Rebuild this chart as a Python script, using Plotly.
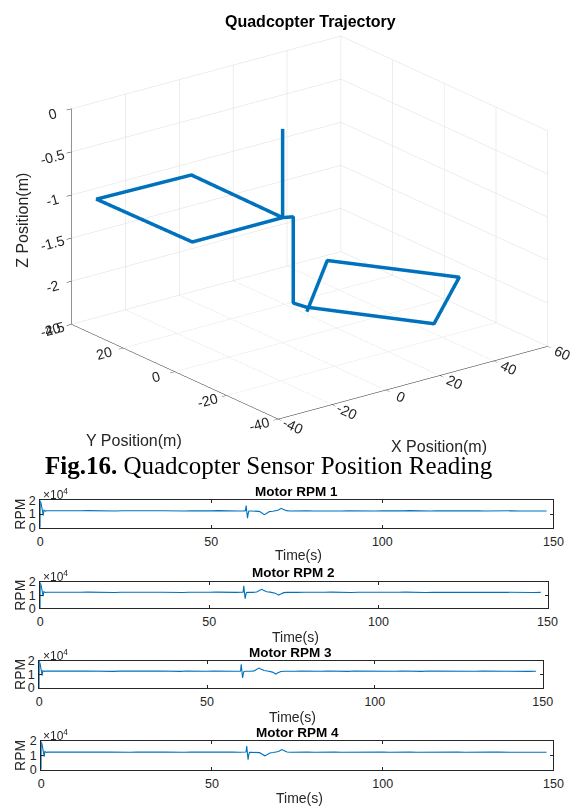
import plotly.graph_objects as go
import math

# ---------------- 3D trajectory data ----------------
traj_x = [0, 0, 0.4, -34.1, -33.5, 0, 2.9, 2.9, 3.8, 25.2, 54.8, 32.5, 1.6]
traj_y = [0, 0, 35.7, 36.5, 0, 0, -1.1, -1.1, -5.1, -32.3, -11.2, 16.6, -7.7]
traj_z = [-0.02, -1.05, -1.05, -1.05, -1.05, -1.05, -1.05, -2.05, -2.05, -2.05, -2.05, -2.05, -2.05]

x_ticks = [-40, -20, 0, 20, 40, 60]
y_ticks = [-40, -20, 0, 20, 40]
z_ticks = [-2.5, -2, -1.5, -1, -0.5, 0]
x_tick_text = ["-40", "-20", "0", "20", "40", "60"]
y_tick_text = ["-40", "-20", "0", "20", "40"]
z_tick_text = ["-2.5", "-2", "-1.5", "-1", "-0.5", "0"]

# ---------------- Motor RPM data ----------------
time_s = [0, 0.05, 0.3, 0.6, 0.9, 1.1, 1.5, 2,
          4, 6, 8, 10, 12, 14, 16, 18, 20, 22, 24, 26, 28, 30, 32, 34, 36, 38, 40,
          42, 44, 46, 48, 50, 52, 54, 56, 58,
          59.5, 60, 60.2, 60.4, 60.6, 60.8, 61, 61.5, 62, 63, 64, 64.5, 65, 65.5,
          66, 66.5, 67, 68, 69, 69.5, 70, 70.5, 71, 71.5, 72, 73, 74,
          76, 78, 80, 82, 84, 86, 88, 90, 92, 94, 96, 98, 100, 102, 104, 106, 108,
          110, 112, 114, 116, 118, 120, 122, 124, 126, 128, 130, 132, 134, 136,
          138, 140, 142, 144, 146, 148, 150]

rpm_motor1 = [0, 19800, 17500, 12500, 9000, 12900, 12200, 12400,
              12300, 12450, 12350, 12250, 12400, 12500, 12300, 12350, 12450, 12250,
              12400, 12300, 12500, 12350, 12200, 12400, 12450, 12300, 12350,
              12250, 12450, 12300, 12400, 12350, 12500, 12250, 12400, 12300,
              12350, 12500, 16200, 12000, 7100, 10500, 12200, 12300, 12200, 12250,
              12000, 11300, 10500, 9600, 10300, 11200, 11800, 12100, 12300, 12800,
              13500, 14200, 13500, 12900, 12500, 12300, 12400,
              12300, 12450, 12250, 12400, 12350, 12500, 12300, 12400, 12250, 12450,
              12350, 12300, 12450, 12250, 12400, 12350, 12500, 12300, 12400, 12250,
              12450, 12350, 12300, 12450, 12250, 12400, 12350, 12300, 12450, 12350,
              12250, 12400, 12300, 12450, 12350, 12250, 12300]

rpm_motor2 = [0, 19500, 17000, 12300, 9200, 12600, 12000, 12200,
              12100, 12250, 12150, 12050, 12200, 12300, 12100, 12150, 12250, 12050,
              12200, 12100, 12300, 12150, 12000, 12200, 12250, 12100, 12150,
              12050, 12250, 12100, 12200, 12150, 12300, 12050, 12200, 12100,
              12150, 12300, 17000, 13000, 7300, 10000, 12000, 12100, 12000, 12100,
              12400, 13000, 13800, 14400, 13700, 13000, 12600, 12300, 12000, 11500,
              10800, 10100, 10800, 11500, 11900, 12100, 12000,
              12100, 12250, 12050, 12200, 12150, 12300, 12100, 12200, 12050, 12250,
              12150, 12100, 12250, 12050, 12200, 12150, 12300, 12100, 12200, 12050,
              12250, 12150, 12100, 12250, 12050, 12200, 12150, 12100, 12250, 12150,
              12050, 12200, 12100, 12250, 12150, 12050, 12100]

rpm_motor3 = [0, 19600, 17200, 12400, 9100, 12700, 12100, 12300,
              12200, 12350, 12250, 12150, 12300, 12400, 12200, 12250, 12350, 12150,
              12300, 12200, 12400, 12250, 12100, 12300, 12350, 12200, 12250,
              12150, 12350, 12200, 12300, 12250, 12400, 12150, 12300, 12200,
              12250, 12400, 17300, 13200, 7400, 10200, 12100, 12200, 12100, 12200,
              12500, 13100, 13900, 14500, 13800, 13100, 12700, 12400, 12100, 11600,
              10900, 10200, 10900, 11600, 12000, 12200, 12100,
              12200, 12350, 12150, 12300, 12250, 12400, 12200, 12300, 12150, 12350,
              12250, 12200, 12350, 12150, 12300, 12250, 12400, 12200, 12300, 12150,
              12350, 12250, 12200, 12350, 12150, 12300, 12250, 12200, 12350, 12250,
              12150, 12300, 12200, 12350, 12250, 12150, 12200]

rpm_motor4 = [0, 19700, 17300, 12400, 9100, 12800, 12100, 12300,
              12200, 12350, 12250, 12150, 12300, 12400, 12200, 12250, 12350, 12150,
              12300, 12200, 12400, 12250, 12100, 12300, 12350, 12200, 12250,
              12150, 12350, 12200, 12300, 12250, 12400, 12150, 12300, 12200,
              12250, 12400, 16600, 12200, 7000, 10400, 12100, 12200, 12100, 12150,
              11900, 11200, 10400, 9700, 10300, 11100, 11700, 12000, 12200, 12700,
              13400, 14100, 13400, 12800, 12400, 12200, 12300,
              12200, 12350, 12150, 12300, 12250, 12400, 12200, 12300, 12150, 12350,
              12250, 12200, 12350, 12150, 12300, 12250, 12400, 12200, 12300, 12150,
              12350, 12250, 12200, 12350, 12150, 12300, 12250, 12200, 12350, 12250,
              12150, 12300, 12200, 12350, 12250, 12150, 12200]

motor_titles = ["Motor RPM 1", "Motor RPM 2", "Motor RPM 3", "Motor RPM 4"]
time_ticks = [0, 50, 100, 150]
rpm_ticks = [0, 10000, 20000]
rpm_tick_text = ["0", "1", "2"]

# ---------------- layout helpers ----------------
W, H = 581, 812
def px(v):
    return v / W
def py(v):
    return 1 - v / H

SANS = "Liberation Sans, Arial, Helvetica, sans-serif"
SERIF = "Liberation Serif, Times New Roman, serif"
TXT = "#262626"
BLUE = "#0072BD"

fig = go.Figure()

fig.add_trace(go.Scatter3d(
    x=traj_x, y=traj_y, z=traj_z, mode="lines",
    line=dict(color=BLUE, width=7), showlegend=False, hoverinfo="skip"))

axis3d = dict(showbackground=False, gridcolor="#dcdcdc", gridwidth=1,
              showline=True, linecolor=TXT, linewidth=1, zeroline=False,
              ticks="outside", ticklen=6, tickcolor=TXT, showspikes=False,
              tickfont=dict(family=SANS, size=13, color=TXT), title=dict(text=""))

# MATLAB-like default view (az=-37.5), elevation tuned to the picture's proportions
az = math.radians(-37.5)
el = math.radians(20.6)
r = 1.6
shift = 0.101  # moves the box to the right on screen
cen = dict(x=-shift * math.cos(az), y=-shift * math.sin(az), z=-0.014)
eye = dict(x=cen["x"] + r * math.cos(el) * math.sin(az),
           y=cen["y"] - r * math.cos(el) * math.cos(az),
           z=cen["z"] + r * math.sin(el))

fig.update_layout(scene=dict(
    domain=dict(x=[0.0, 1.0], y=[0.44, 1.0]),
    xaxis=dict(axis3d, range=[-40, 60], tickvals=x_ticks, ticktext=x_tick_text),
    yaxis=dict(axis3d, range=[-40, 40], tickvals=y_ticks, ticktext=y_tick_text),
    zaxis=dict(axis3d, range=[-2.5, 0], tickvals=z_ticks, ticktext=z_tick_text),
    aspectmode="manual", aspectratio=dict(x=1.52, y=1.52, z=1.03),
    camera=dict(eye=eye, up=dict(x=0, y=0, z=1), center=cen,
                projection=dict(type="orthographic")),
    bgcolor="white"))

# ---------------- 2D subplots ----------------
boxes = [  # (left, right, top, bottom) in px
    (38, 563, 502, 530),
    (38, 557, 585, 612),
    (37, 552, 665, 693),
    (39, 563, 747, 776),
]
title_y = [493, 575, 657, 738]
time_label_y = [558, 641, 722, 805]
series = [rpm_motor1, rpm_motor2, rpm_motor3, rpm_motor4]

annotations = []
for i, (l, rgt, t, b) in enumerate(boxes):
    n = "" if i == 0 else str(i + 1)
    xa, ya = "xaxis" + n, "yaxis" + n
    fig.add_trace(go.Scatter(x=time_s, y=series[i], mode="lines",
                             line=dict(color=BLUE, width=1.1),
                             xaxis="x" + n, yaxis="y" + n, showlegend=False, hoverinfo="skip"))
    fig.update_layout({
        xa: dict(domain=[px(l), px(rgt)], anchor="y" + n, range=[0, 150],
                 tickvals=time_ticks, ticks="inside", ticklen=3, tickcolor=TXT,
                 showline=True, linecolor=TXT, linewidth=1, mirror="ticks",
                 showgrid=False, zeroline=False, ticklabelstandoff=2,
                 tickfont=dict(family=SANS, size=12.5, color=TXT)),
        ya: dict(domain=[py(b), py(t)], anchor="x" + n, range=[0, 20000],
                 tickvals=rpm_ticks, ticktext=rpm_tick_text, ticks="inside", ticklen=3,
                 tickcolor=TXT, showline=True, linecolor=TXT, linewidth=1, mirror="ticks",
                 showgrid=False, zeroline=False, ticklabelstandoff=1,
                 tickfont=dict(family=SANS, size=12.5, color=TXT)),
    })
    cx = (l + rgt) / 2
    annotations += [
        dict(text="<b>" + motor_titles[i] + "</b>", x=px(cx), y=py(title_y[i]),
             font=dict(family=SANS, size=13.5, color="black")),
        dict(text="Time(s)", x=px(cx + 2), y=py(time_label_y[i]),
             font=dict(family=SANS, size=14, color=TXT)),
        dict(text="RPM", x=px(18), y=py((t + b) / 2), textangle=-90,
             font=dict(family=SANS, size=14, color=TXT)),
        dict(text="×10<sup>4</sup>", x=px(39), y=py(t - 6), xanchor="left",
             font=dict(family=SANS, size=12, color=TXT)),
    ]

annotations += [
    dict(text="<b>Quadcopter Trajectory</b>", x=px(315), y=py(15),
         font=dict(family=SANS, size=16, color="black")),
    dict(text="Z Position(m)", x=px(20), y=py(217), textangle=-90,
         font=dict(family=SANS, size=16, color=TXT)),
    dict(text="Y Position(m)", x=px(134), y=py(441),
         font=dict(family=SANS, size=16, color=TXT)),
    dict(text="X Position(m)", x=px(446), y=py(447),
         font=dict(family=SANS, size=16, color=TXT)),
    dict(text="<b>Fig.16.</b> Quadcopter Sensor Position Reading", x=px(272), y=py(467),
         font=dict(family=SERIF, size=25, color="black")),
]
for a in annotations:
    a.setdefault("xref", "paper")
    a.setdefault("yref", "paper")
    a.setdefault("showarrow", False)
    a.setdefault("xanchor", "center")
    a.setdefault("yanchor", "middle")

fig.update_layout(width=W, height=H, margin=dict(l=0, r=0, t=0, b=0),
                  paper_bgcolor="white", plot_bgcolor="white",
                  annotations=annotations, showlegend=False)

fig.write_html("out.html", config={"displayModeBar": False},
               post_script="document.body.style.margin='0';document.body.style.overflow='hidden';")
